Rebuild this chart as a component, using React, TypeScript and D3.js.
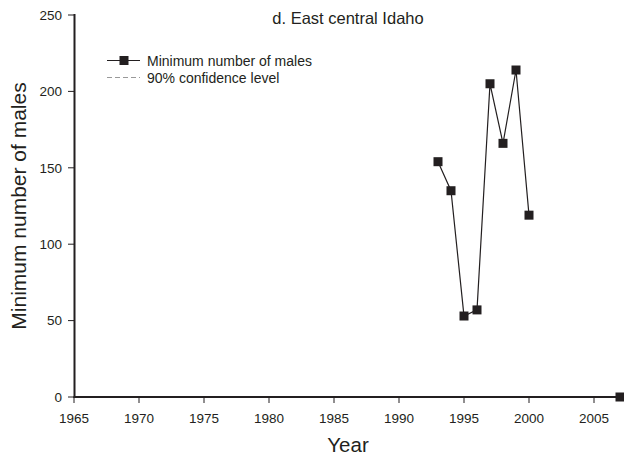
import { scaleLinear, line } from 'd3'

const YEARS = [1993, 1994, 1995, 1996, 1997, 1998, 1999, 2000, 2007]
const MALES = [154, 135, 53, 57, 205, 166, 214, 119, 0]
const X_TICKS = [1965, 1970, 1975, 1980, 1985, 1990, 1995, 2000, 2005]
const Y_TICKS = [0, 50, 100, 150, 200, 250]
const TITLE = 'd. East central Idaho'
const LEGEND = ['Minimum number of males', '90% confidence level']

export default function App() {
  const width = 624
  const height = 459
  const ink = '#231f20'
  const font = 'Liberation Sans, Arial, Helvetica, sans-serif'

  const xScale = scaleLinear().domain([1965, 2007]).range([74, 620])
  const yScale = scaleLinear().domain([0, 250]).range([397, 15])

  const points = YEARS.map((year, i) => ({ year, value: MALES[i] }))

  // split into runs of consecutive years (gap after 2000)
  const segments: { year: number; value: number }[][] = []
  points.forEach((p, i) => {
    if (i === 0 || p.year - points[i - 1].year > 1) segments.push([])
    segments[segments.length - 1].push(p)
  })

  const path = line<{ year: number; value: number }>()
    .x((d) => xScale(d.year))
    .y((d) => yScale(d.value))

  const sq = 9

  return (
    <svg
      width={width}
      height={height}
      style={{ position: 'absolute', left: 0, top: 0, background: '#fff' }}
      fontFamily={font}
    >
      {/* title */}
      <text x={348} y={23.5} textAnchor='middle' fontSize={16.5} fill={ink}>
        {TITLE}
      </text>

      {/* legend */}
      <g>
        <line x1={107} x2={140} y1={60.5} y2={60.5} stroke={ink} strokeWidth={1.2} />
        <rect x={124 - 4.5} y={60.5 - 4.5} width={sq} height={sq} fill={ink} />
        <text x={147} y={65.5} fontSize={14} fill={ink}>
          {LEGEND[0]}
        </text>
        <line
          x1={107}
          x2={140}
          y1={77.5}
          y2={77.5}
          stroke='#999'
          strokeWidth={1}
          strokeDasharray='5,3'
        />
        <text x={147} y={82.5} fontSize={14} fill={ink}>
          {LEGEND[1]}
        </text>
      </g>

      {/* Y axis */}
      <line x1={74.5} x2={74.5} y1={14} y2={398} stroke={ink} strokeWidth={2} />
      {Y_TICKS.map((t) => (
        <g key={t} transform={`translate(0, ${yScale(t)})`}>
          <line x1={68} x2={74} stroke={ink} strokeWidth={1} />
          <text x={62} dy='0.35em' textAnchor='end' fontSize={13.5} fill={ink}>
            {t}
          </text>
        </g>
      ))}

      {/* X axis */}
      <line x1={73.5} x2={624} y1={397} y2={397} stroke={ink} strokeWidth={2} />
      {X_TICKS.map((t) => (
        <g key={t} transform={`translate(${xScale(t)}, 0)`}>
          <line y1={397} y2={403} stroke={ink} strokeWidth={1} />
          <text y={423} textAnchor='middle' fontSize={13.5} fill={ink}>
            {t}
          </text>
        </g>
      ))}

      {/* axis titles */}
      <text x={348} y={452} textAnchor='middle' fontSize={20.5} fill={ink}>
        Year
      </text>
      <text
        transform={`translate(26, 206) rotate(-90)`}
        textAnchor='middle'
        fontSize={21}
        fill={ink}
      >
        Minimum number of males
      </text>

      {/* series */}
      {segments.map((seg, i) => (
        <path key={i} d={path(seg) ?? ''} fill='none' stroke={ink} strokeWidth={1.2} />
      ))}
      {points.map((d, i) => (
        <rect
          key={i}
          x={xScale(d.year) - sq / 2}
          y={yScale(d.value) - sq / 2}
          width={sq}
          height={sq}
          fill={ink}
        />
      ))}
    </svg>
  )
}
